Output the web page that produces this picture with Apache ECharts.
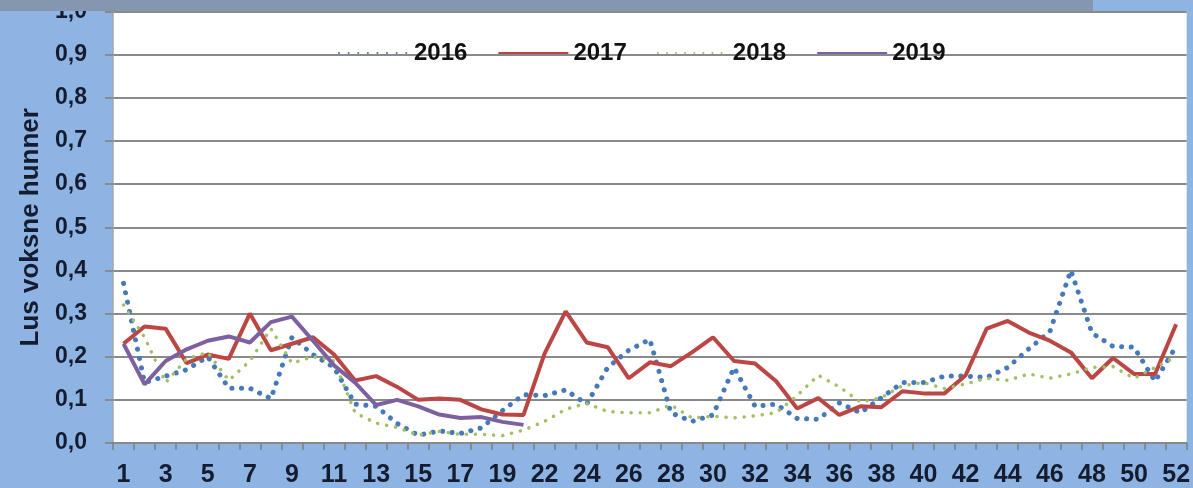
<!DOCTYPE html>
<html>
<head>
<meta charset="utf-8">
<script src="https://cdn.jsdelivr.net/npm/echarts@6/dist/echarts.min.js"></script>
<style>
html, body { margin: 0; padding: 0; background: #8db4e2; }
#luschart { width: 1193px; height: 488px; }
</style>
</head>
<body>
<div id="luschart"></div>
<script>
// uke 21 mangler i kategoriene
var weeks = ['1','2','3','4','5','6','7','8','9','10','11','12','13','14','15','16','17','18','19','20',
  '22','23','24','25','26','27','28','29','30','31','32','33','34','35','36','37','38','39','40','41',
  '42','43','44','45','46','47','48','49','50','51','52'];

var lus2016 = [0.37,0.14,0.155,0.17,0.2,0.127,0.127,0.103,0.245,0.205,
  0.175,0.09,0.085,0.045,0.018,0.028,0.022,0.035,0.075,0.112,
  0.11,0.123,0.09,0.175,0.215,0.24,0.07,0.05,0.065,0.175,
  0.085,0.09,0.057,0.055,0.093,0.07,0.105,0.14,0.14,0.155,
  0.155,0.152,0.175,0.218,0.258,0.4,0.255,0.224,0.222,0.143,0.224];

var lus2017 = [0.23,0.27,0.265,0.185,0.205,0.195,0.3,0.215,0.23,0.245,
  0.205,0.145,0.155,0.13,0.1,0.103,0.1,0.078,0.066,0.065,
  0.207,0.305,0.233,0.222,0.15,0.187,0.178,0.21,0.245,0.19,
  0.184,0.143,0.08,0.104,0.065,0.085,0.083,0.12,0.115,0.115,
  0.157,0.265,0.283,0.256,0.237,0.21,0.15,0.197,0.16,0.16,0.275];

var lus2018 = [0.32,0.245,0.14,0.195,0.21,0.145,0.19,0.265,0.185,0.2,
  0.19,0.07,0.046,0.036,0.018,0.027,0.02,0.02,0.017,0.03,
  0.05,0.078,0.092,0.073,0.07,0.07,0.088,0.058,0.062,0.058,
  0.063,0.07,0.11,0.157,0.13,0.095,0.105,0.133,0.14,0.126,
  0.137,0.15,0.145,0.16,0.15,0.16,0.175,0.177,0.15,0.175,0.2];

var lus2019 = [0.23,0.136,0.19,0.217,0.237,0.247,0.233,0.28,0.293,0.237,
  0.18,0.14,0.088,0.1,0.085,0.066,0.058,0.06,0.049,0.042];

var txtColor = '#161c30';
var fontFam = '"Liberation Sans", Arial, sans-serif';

var chartDom = document.getElementById('luschart');
var myChart = echarts.init(chartDom);
var option = {
  backgroundColor: '#8db4e2',
  animation: false,
  grid: {
    left: 113,
    right: 2,
    top: 8.3,
    bottom: 44.7,
    show: true,
    backgroundColor: '#ffffff',
    borderWidth: 0
  },
  legend: {
    left: 333,
    top: 36,
    itemWidth: 70,
    itemHeight: 14,
    itemGap: 30,
    itemStyle: { opacity: 0 },
    textStyle: {
      fontSize: 24,
      fontWeight: 'bold',
      fontFamily: fontFam,
      color: '#111111'
    },
    data: ['2016', '2017', '2018', '2019']
  },
  xAxis: {
    type: 'category',
    data: weeks,
    boundaryGap: true,
    axisLine: { lineStyle: { color: '#8a8a8a', width: 2 } },
    axisTick: { show: true, interval: 0, length: 7, lineStyle: { color: '#7f7f7f', width: 1.5 } },
    axisLabel: {
      interval: 1,
      margin: 20,
      fontSize: 25,
      fontWeight: 'bold',
      fontFamily: fontFam,
      color: txtColor
    }
  },
  yAxis: {
    type: 'value',
    min: 0,
    max: 1,
    interval: 0.1,
    name: 'Lus voksne hunner',
    nameLocation: 'middle',
    nameGap: 67,
    nameTextStyle: {
      fontSize: 26,
      fontWeight: 'bold',
      fontFamily: fontFam,
      color: txtColor
    },
    axisLine: { show: true, lineStyle: { color: '#a6a6a6', width: 1.5 } },
    axisTick: { show: true, length: 8, lineStyle: { color: '#8a8a8a', width: 2 } },
    axisLabel: {
      margin: 26,
      fontSize: 23,
      fontWeight: 'bold',
      fontFamily: fontFam,
      color: txtColor,
      formatter: function (v) {
        return v.toFixed(1).replace('.', ',');
      }
    },
    splitLine: { lineStyle: { color: '#8a8a8a', width: 2 } }
  },
  series: [{
    name: '2016',
    type: 'line',
    data: lus2016,
    symbol: 'none',
    itemStyle: { color: '#4579b8' },
    lineStyle: { color: '#4579b8', width: 5, type: [0.1, 9.5], cap: 'round' }
  }, {
    name: '2017',
    type: 'line',
    data: lus2017,
    symbol: 'none',
    itemStyle: { color: '#bc4643' },
    lineStyle: { color: '#bc4643', width: 4 }
  }, {
    name: '2018',
    type: 'line',
    data: lus2018,
    symbol: 'none',
    itemStyle: { color: '#a2bf63' },
    lineStyle: { color: '#a2bf63', width: 3.5, type: [0.1, 9], cap: 'round' }
  }, {
    name: '2019',
    type: 'line',
    data: lus2019,
    symbol: 'none',
    itemStyle: { color: '#7d60a0' },
    lineStyle: { color: '#7d60a0', width: 4 }
  }],
  graphic: [{
    type: 'rect',
    z: 100,
    shape: { x: 0, y: 0, width: 1193, height: 11 },
    style: { fill: '#8db4e2' }
  }, {
    type: 'rect',
    z: 101,
    shape: { x: 0, y: 0, width: 1093, height: 11 },
    style: { fill: '#8496b0' }
  }]
};
option && myChart.setOption(option);
</script>
</body>
</html>
